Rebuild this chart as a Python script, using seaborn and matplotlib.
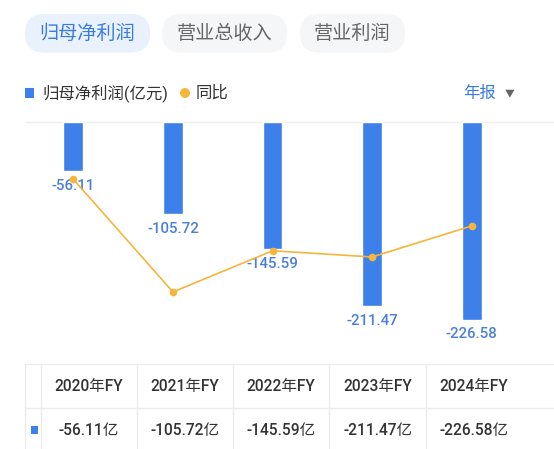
import numpy as np
import pandas as pd
import matplotlib
matplotlib.use('Agg')
import matplotlib.pyplot as plt
import seaborn as sns
from matplotlib.patches import FancyBboxPatch, Rectangle, Circle

# data
years = ['2020年FY', '2021年FY', '2022年FY', '2023年FY', '2024年FY']
profit = [-56.11, -105.72, -145.59, -211.47, -226.58]
yoy = [50.4, -88.4, -37.7, -45.3, -7.1]   # 同比 %
tabs = ['归母净利润', '营业总收入', '营业利润']
series_name = '归母净利润(亿元)'
yoy_name = '同比'
period = '年报'

BLUE = '#3d80ea'
LABEL_BLUE = '#4a80d9'
TAB_BLUE = '#3a7be0'
ORANGE = '#f6b53b'
GRID = '#ebebeb'

sns.set_theme(style='white')
plt.rcParams['font.family'] = ['Roboto', 'Noto Sans CJK SC', 'DejaVu Sans']

W, H = 554, 449
fig = plt.figure(figsize=(W / 100, H / 100), dpi=100)
fig.patch.set_facecolor('white')

# pixel overlay for tabs, legend and table
bg = fig.add_axes([0, 0, 1, 1])
bg.set_xlim(0, W)
bg.set_ylim(H, 0)
bg.axis('off')

tab_x = [(25, 150), (162, 287), (300, 405)]
for i, (name, (x0, x1)) in enumerate(zip(tabs, tab_x)):
    active = i == 0
    bg.add_patch(FancyBboxPatch((x0, 14), x1 - x0, 38.5,
                                boxstyle='round,pad=0,rounding_size=19',
                                fc='#e9f1fd' if active else '#f5f6f8', ec='none'))
    bg.text((x0 + x1) / 2, 33.5, name, ha='center', va='center', fontsize=13.8,
            color=TAB_BLUE if active else '#666666', fontweight='medium')

# legend row
bg.add_patch(Rectangle((25, 88), 9, 10, fc=BLUE, ec='none'))
bg.text(42, 93, series_name, va='center', fontsize=11.8, color='#333333')
bg.add_patch(Circle((185, 93), 5, fc=ORANGE, ec='none'))
bg.text(196, 93, yoy_name, va='center', fontsize=11.8, color='#333333')
bg.text(463, 93, period, va='center', fontsize=11.8, color=TAB_BLUE)
bg.text(510, 93, '▼', va='center', ha='center', fontsize=7, color='#666666')

# table
edges = [41, 137, 233, 329, 426, 521]
bg.plot([25, W], [364, 364], color=GRID, lw=1)
bg.plot([25, W], [408, 408], color=GRID, lw=1)
for x in [25] + edges[:-1]:
    bg.plot([x, x], [364, H], color=GRID, lw=1)
for i, (yr, v) in enumerate(zip(years, profit)):
    cx = (edges[i] + edges[i + 1]) / 2
    bg.text(cx, 387, yr, ha='center', va='center', fontsize=11.2, color='#333333',
            fontweight='medium')
    bg.text(cx, 430, f'{v:.2f}亿', ha='center', va='center', fontsize=11.2,
            color='#333333', fontweight='medium')
bg.add_patch(Rectangle((31, 426), 7, 8, fc=BLUE, ec='none'))

# chart
df = pd.DataFrame({'year': years, 'profit': profit, 'yoy': yoy})
ax = fig.add_axes([25 / W, (H - 350) / H, (W - 25) / W, 228 / H])
sns.barplot(data=df, x='year', y='profit', color=BLUE, width=0.2, saturation=1, ax=ax)
ax.set_xlim(-0.485, 4.826)
ax.set_ylim(-261.5, 0)
ax.axhline(0, color='#eeeeee', lw=1, clip_on=False, zorder=0)
for i, v in enumerate(profit):
    ax.annotate(f'{v:.2f}', (i, v), xytext=(0, -10.5), textcoords='offset points',
                ha='center', va='center', color=LABEL_BLUE, fontsize=10.8,
                fontweight='medium')
ax.set_axis_off()

ax2 = ax.twinx()
sns.lineplot(x=np.arange(len(years)), y=df['yoy'], ax=ax2, color=ORANGE, marker='o',
             markersize=5.5, markeredgewidth=0, linewidth=1.2)
ax2.set_ylim(-159.9, 120.9)
ax2.set_axis_off()

fig.savefig('out.png', dpi=100)
